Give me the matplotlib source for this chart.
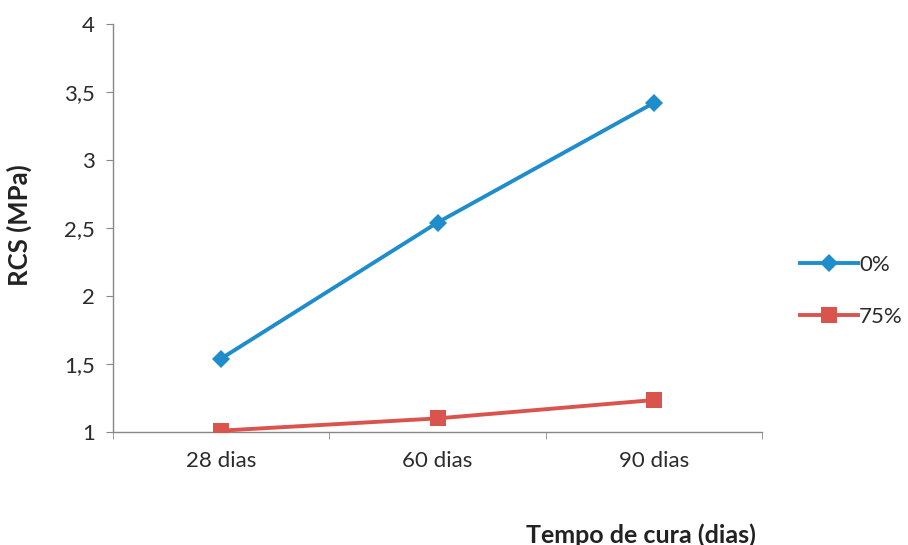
import matplotlib
matplotlib.use("Agg")
import matplotlib.pyplot as plt
from matplotlib.ticker import FixedLocator, FuncFormatter

plt.rcParams['font.family'] = ['Lato', 'DejaVu Sans']

categories = ["28 dias", "60 dias", "90 dias"]
serie_0 = [1.54, 2.54, 3.42]
serie_75 = [1.01, 1.10, 1.235]
series_labels = ["0%", "75%"]
y_ticks = [1, 1.5, 2, 2.5, 3, 3.5, 4]

fig = plt.figure(figsize=(9.08, 5.45), dpi=100)
ax = fig.add_axes([113/908, 113/545, (762-113)/908, (432-24)/545])

x = list(range(len(categories)))
ax.plot(x, serie_0, color="#1F8DCB", lw=2.8, marker="D", ms=9,
        markeredgewidth=0, label=series_labels[0], zorder=3)
ax.plot(x, serie_75, color="#D9544C", lw=2.8, marker="s", ms=12,
        markeredgewidth=0, label=series_labels[1], zorder=3)

ax.set_xlim(-0.5, len(categories) - 0.5)
ax.set_ylim(1, 4)
ax.yaxis.set_major_locator(FixedLocator(y_ticks))
ax.yaxis.set_major_formatter(FuncFormatter(lambda v, p: f"{v:g}".replace(".", ",")))

ax.set_xticks(x)
ax.set_xticklabels(categories)
ax.set_xticks([i - 0.5 for i in range(len(categories) + 1)], minor=True)
ax.tick_params(axis="x", which="major", length=0, pad=14, labelsize=16, colors="#2b2b2b")
ax.tick_params(axis="x", which="minor", length=5, direction="out", color="#888888")
ax.tick_params(axis="y", length=5, direction="out", color="#888888", pad=8,
               labelsize=16, labelcolor="#2b2b2b")

for s in ["top", "right"]:
    ax.spines[s].set_visible(False)
for s in ["left", "bottom"]:
    ax.spines[s].set_color("#888888")
    ax.spines[s].set_linewidth(1.0)

fig.text(19/908, 1 - 225/545, "RCS (MPa)", rotation=90, ha="center", va="center",
         fontsize=18.5, fontweight="bold", color="#222222")
fig.text(641/908, 1 - 535/545, "Tempo de cura (dias)", ha="center", va="center",
         fontsize=18, fontweight="bold", color="#222222")

leg = fig.legend(loc="upper left", bbox_to_anchor=(800/908, 1 - 255/545),
                 frameon=False, fontsize=16, handlelength=2.6, handletextpad=0.05,
                 labelspacing=1.45, borderpad=0, borderaxespad=0,
                 labelcolor="#2b2b2b")

fig.savefig("out.png", dpi=100)
